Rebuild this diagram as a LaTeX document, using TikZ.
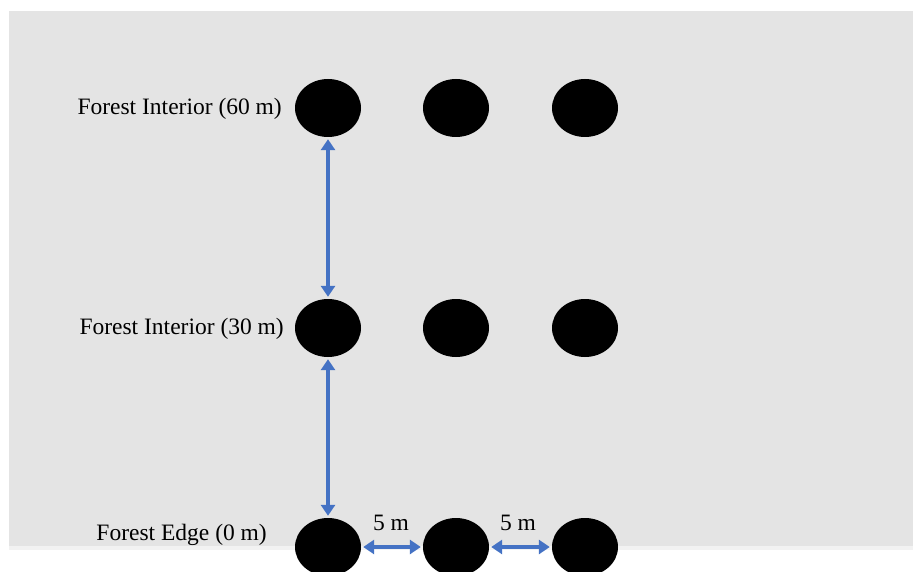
\documentclass[tikz,border=0pt]{standalone}
\usepackage{fontspec}
\setmainfont{Liberation Serif}
\usetikzlibrary{shapes.geometric,arrows.meta}
\definecolor{bggray}{HTML}{E4E4E4}
\definecolor{arrblue}{HTML}{4472C4}
\tikzset{
  plot/.style={ellipse,fill=black,minimum width=66pt,minimum height=58pt,inner sep=0pt},
  lbl/.style={anchor=east,inner sep=0pt,font=\fontsize{23.5}{26}\selectfont},
  dist/.style={inner sep=0pt,font=\fontsize{23.5}{26}\selectfont},
  link/.style={draw=arrblue,line width=3.5pt,{Triangle[length=11pt,width=14pt]}-{Triangle[length=11pt,width=14pt]},shorten <=2pt,shorten >=2pt}
}
\begin{document}
\begin{tikzpicture}[x=1pt,y=-1pt]
\useasboundingbox (0,0) rectangle (913,572);
\fill[white] (0,0) rectangle (913,572);
\fill[bggray] (9,11) rectangle (913,546);
\fill[black!5] (9,546) rectangle (913,550);
% plots
\node[plot] (a1) at (328,108) {};
\node[plot] (a2) at (456,108) {};
\node[plot] (a3) at (585,108) {};
\node[plot] (b1) at (328,328) {};
\node[plot] (b2) at (456,328) {};
\node[plot] (b3) at (585,328) {};
\node[plot] (c1) at (328,547) {};
\node[plot] (c2) at (456,547) {};
\node[plot] (c3) at (585,547) {};
% labels
\node[lbl] (l1) at (282,109) {Forest Interior (60 m)};
\node[lbl] (l2) at (284,329) {Forest Interior (30 m)};
\node[lbl] (l3) at (267,535) {Forest Edge (0 m)};
\node[dist] (d1) at (391,523) {5 m};
\node[dist] (d2) at (518,523) {5 m};
% arrows
\draw[link] (a1.south) -- (b1.north);
\draw[link] (b1.south) -- (c1.north);
\draw[link] (c1.east) -- (c2.west);
\draw[link] (c2.east) -- (c3.west);
\end{tikzpicture}
\end{document}
